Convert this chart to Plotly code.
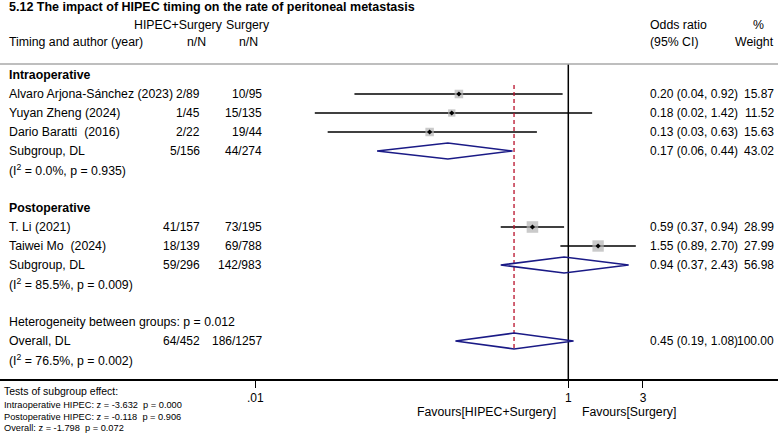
import plotly.graph_objects as go

W, H = 778, 436
FONT = "Liberation Sans, Arial, sans-serif"

# ---------------- data ----------------
title = "5.12 The impact of HIPEC timing on the rate of peritoneal metastasis"
groups = ["Intraoperative", "Postoperative"]

study_names = ["Alvaro Arjona-Sánchez (2023)", "Yuyan Zheng (2024)", "Dario Baratti\u00a0 (2016)",
               "T. Li (2021)", "Taiwei Mo\u00a0 (2024)"]
study_group = [0, 0, 0, 1, 1]
study_hipec = ["2/89", "1/45", "2/22", "41/157", "18/139"]
study_surg = ["10/95", "15/135", "19/44", "73/195", "69/788"]
study_or = [0.20, 0.18, 0.13, 0.59, 1.55]
study_lo = [0.043, 0.024, 0.029, 0.37, 0.89]
study_hi = [0.92, 1.42, 0.63, 0.94, 2.70]
study_wt = [15.87, 11.52, 15.63, 28.99, 27.99]

sub_hipec = ["5/156", "59/296"]
sub_surg = ["44/274", "142/983"]
sub_or = [0.17, 0.94]
sub_lo = [0.06, 0.37]
sub_hi = [0.44, 2.43]
sub_wt = [43.02, 56.98]
sub_het = ["(I<sup>2</sup> = 0.0%, p = 0.935)", "(I<sup>2</sup> = 85.5%, p = 0.009)"]

between_het = "Heterogeneity between groups: p = 0.012"
ov_hipec, ov_surg = "64/452", "186/1257"
ov_or, ov_lo, ov_hi, ov_wt = 0.45, 0.19, 1.08, 100.00
ov_het = "(I<sup>2</sup> = 76.5%, p = 0.002)"

tick_vals = [0.01, 1, 3]
tick_text = [".01", "1", "3"]

tests_title = "Tests of subgroup effect:"
tests_lines = ["Intraoperative HIPEC: z = -3.632\u00a0 p = 0.000",
               "Postoperative HIPEC: z = -0.118\u00a0 p = 0.906",
               "Overall: z = -1.798\u00a0 p = 0.072"]

# ---------------- layout helpers ----------------
ROW0_PX, ROW_PX = 75, 19          # pixel of row 0 and row pitch
AXIS_PX = 379                     # pixel of x axis line
X_ONE_PX, DECADE_PX = 568.3, 156.5
LBL = 12.3                        # label font size
NUM = 12                          # numeric column font size


def row_of_px(px):
    return (px - ROW0_PX) / ROW_PX


def px_x(px):
    return px / W


def px_y(px):
    return 1 - px / H


# assign rows
k = 0
group_rows = []
study_rows = [None] * len(study_names)
sub_rows = []
het_rows = []
for g in range(len(groups)):
    group_rows.append(k); k += 1
    for i, sg in enumerate(study_group):
        if sg == g:
            study_rows[i] = k; k += 1
    sub_rows.append(k); k += 1
    het_rows.append(k); k += 2
between_row = k; k += 1
ov_row = k; k += 1
ov_het_row = k

annots = []


def txt(text, x_px, y, anchor="left", size=LBL, yref="y", bold=False, color="black"):
    if bold:
        text = "<b>" + text + "</b>"
    annots.append(dict(text=text, x=px_x(x_px), xref="paper", y=y, yref=yref,
                       xanchor=anchor, yanchor="middle", showarrow=False,
                       font=dict(family=FONT, size=size, color=color)))


def fmt_ci(o, l, h):
    return f"{o:.2f} ({l:.2f}, {h:.2f})"


X_LABEL, X_HIPEC, X_SURG, X_OR, X_WT = 7, 202, 264, 648, 776

# header
txt(title, 7, row_of_px(7), bold=True, size=12.5)
txt("HIPEC+Surgery", 178, row_of_px(25), anchor="center")
txt("Surgery", 224, row_of_px(25))
txt("Timing and author (year)", 7, row_of_px(42))
txt("n/N", 196, row_of_px(42), anchor="center")
txt("n/N", 248, row_of_px(42), anchor="center")
txt("Odds ratio", X_OR, row_of_px(25))
txt("(95% CI)", X_OR, row_of_px(42))
txt("%", 758, row_of_px(25), anchor="center")
txt("Weight", 754, row_of_px(42), anchor="center")

for g, name in enumerate(groups):
    txt(name, X_LABEL, group_rows[g], bold=True)
for i, name in enumerate(study_names):
    r = study_rows[i]
    txt(name, X_LABEL, r)
    txt(study_hipec[i], X_HIPEC, r, anchor="right", size=NUM)
    txt(study_surg[i], X_SURG, r, anchor="right", size=NUM)
    txt(fmt_ci(study_or[i], study_lo[i], study_hi[i]), X_OR, r, size=NUM)
    txt(f"{study_wt[i]:.2f}", X_WT, r, anchor="right", size=NUM)
for g in range(len(groups)):
    r = sub_rows[g]
    txt("Subgroup, DL", X_LABEL, r)
    txt(sub_hipec[g], X_HIPEC, r, anchor="right", size=NUM)
    txt(sub_surg[g], X_SURG, r, anchor="right", size=NUM)
    txt(fmt_ci(sub_or[g], sub_lo[g], sub_hi[g]), X_OR, r, size=NUM)
    txt(f"{sub_wt[g]:.2f}", X_WT, r, anchor="right", size=NUM)
    txt(sub_het[g], X_LABEL, het_rows[g])
txt(between_het, X_LABEL, between_row)
txt("Overall, DL", X_LABEL, ov_row)
txt(ov_hipec, X_HIPEC, ov_row, anchor="right", size=NUM)
txt(ov_surg, X_SURG, ov_row, anchor="right", size=NUM)
txt(fmt_ci(ov_or, ov_lo, ov_hi), X_OR, ov_row, size=NUM)
txt(f"{ov_wt:.2f}", X_WT, ov_row, anchor="right", size=NUM)
txt(ov_het, X_LABEL, ov_het_row)

# below axis
txt("Favours[HIPEC+Surgery]", 558, px_y(412), anchor="right", yref="paper")
txt("Favours[Surgery]", 580, px_y(412), yref="paper")
txt(tests_title, 2, px_y(391), size=10.5, yref="paper")
for j, line in enumerate(tests_lines):
    txt(line, 2, px_y(405 + 11.5 * j), size=9.25, yref="paper")

fig = go.Figure()

# CI lines
cx, cy = [], []
for i in range(len(study_names)):
    cx += [study_lo[i], study_hi[i], None]
    cy += [study_rows[i], study_rows[i], None]
fig.add_trace(go.Scatter(x=cx, y=cy, mode="lines", line=dict(color="black", width=1.5),
                         hoverinfo="skip"))
# weight squares
fig.add_trace(go.Scatter(x=study_or, y=study_rows, mode="markers",
                         marker=dict(symbol="square", color="#b4b4b4",
                                     size=[2.15 * w ** 0.5 for w in study_wt],
                                     line=dict(width=0))))
# point estimates
fig.add_trace(go.Scatter(x=study_or, y=study_rows, mode="markers",
                         marker=dict(symbol="diamond", color="black", size=4)))

# null line
fig.add_trace(go.Scatter(x=[1, 1], y=[row_of_px(64), row_of_px(AXIS_PX)], mode="lines",
                         line=dict(color="black", width=1.5)))
# overall dashed line
HALF = 0.42
fig.add_trace(go.Scatter(x=[ov_or, ov_or], y=[row_of_px(85), ov_row + HALF], mode="lines",
                         line=dict(color="#b8102a", width=1.3, dash="4px,3px")))

# diamonds
dx, dy = [], []
for o, l, h, r in list(zip(sub_or, sub_lo, sub_hi, sub_rows)) + [(ov_or, ov_lo, ov_hi, ov_row)]:
    dx += [l, o, h, o, l, None]
    dy += [r, r - HALF, r, r + HALF, r, None]
fig.add_trace(go.Scatter(x=dx, y=dy, mode="lines", line=dict(color="#1a1a86", width=1.6)))

fig.add_shape(type="line", xref="paper", x0=0, x1=1, yref="y",
              y0=row_of_px(64), y1=row_of_px(64), line=dict(color="#a8a8a8", width=1.5))

r0 = -X_ONE_PX / DECADE_PX
r1 = (W - X_ONE_PX) / DECADE_PX
fig.update_layout(
    width=W, height=H, margin=dict(l=0, r=0, t=0, b=0),
    paper_bgcolor="white", plot_bgcolor="white", showlegend=False,
    font=dict(family=FONT, size=12, color="black"),
    xaxis=dict(type="log", range=[r0, r1], domain=[0, 1], showgrid=False, zeroline=False,
               showline=True, linecolor="black", linewidth=1.5,
               ticks="outside", ticklen=7, tickwidth=1, tickcolor="black",
               tickvals=tick_vals, ticktext=tick_text,
               tickfont=dict(family=FONT, size=12, color="black")),
    yaxis=dict(range=[row_of_px(AXIS_PX), row_of_px(0)], domain=[1 - AXIS_PX / H, 1],
               visible=False, showgrid=False, zeroline=False),
    annotations=annots,
)
fig.write_html("out.html")
